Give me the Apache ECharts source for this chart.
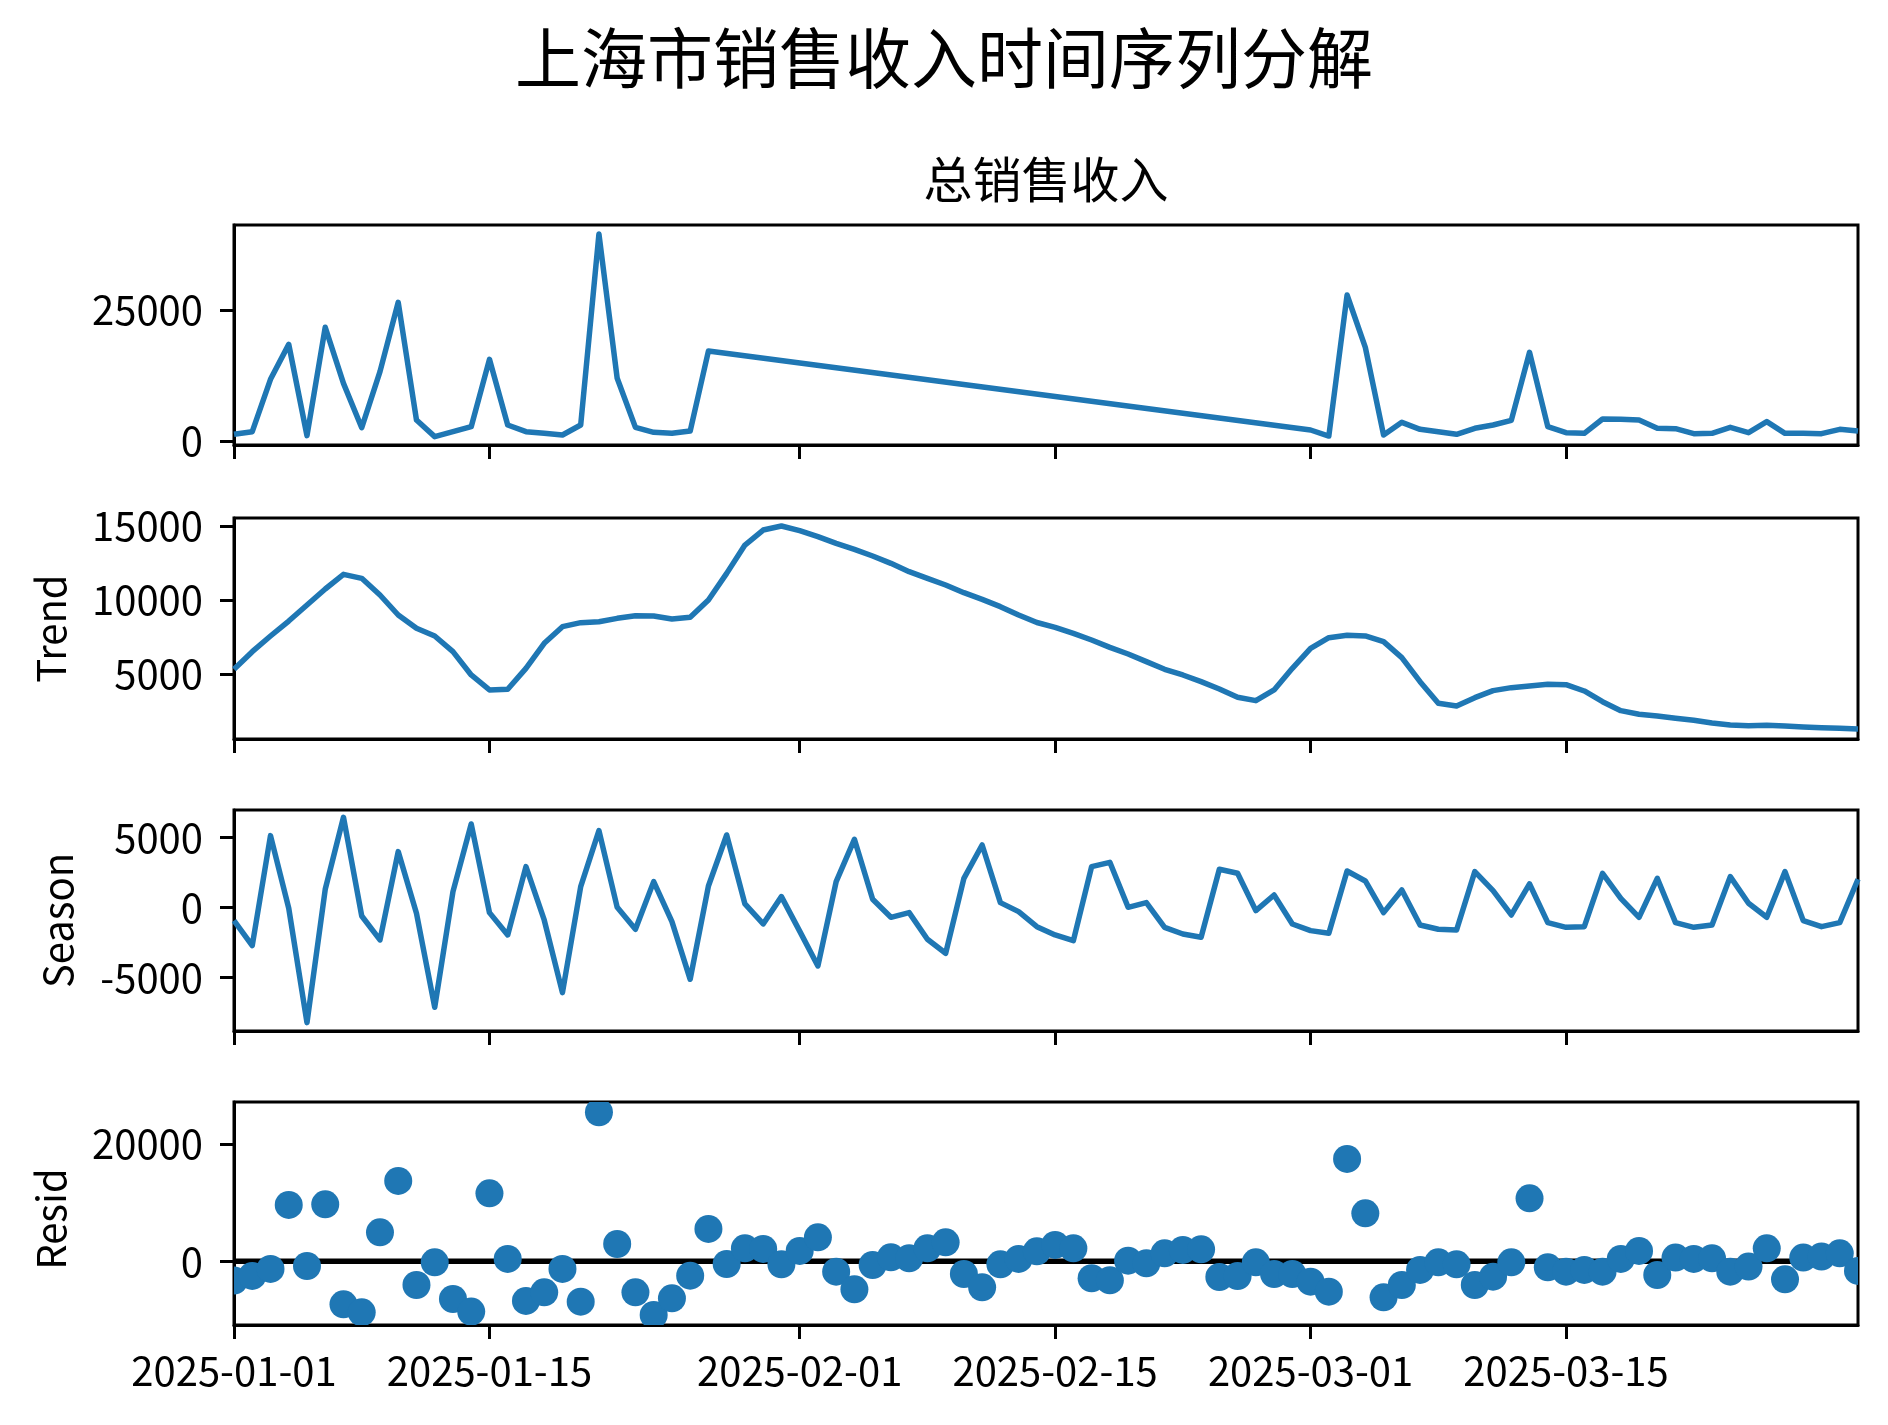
<!DOCTYPE html>
<html>
<head>
<meta charset="utf-8">
<title>上海市销售收入时间序列分解</title>
<script src="https://cdn.jsdelivr.net/npm/echarts@6.0.0/dist/echarts.min.js"></script>
<style>
    html, body { margin: 0; padding: 0; background: #fff; }
    #chart { width: 1888px; height: 1425px; }
</style>
</head>
<body>
<div id="chart"></div>
<script>
// 日期：2025-01-01 起连续 90 天
const dayCount = 90
const days = []
for (let i = 0; i < dayCount; i++) {
    days.push(new Date(2025, 0, 1 + i).getTime())
}

const xTickLabels = ['2025-01-01', '2025-01-15', '2025-02-01', '2025-02-15', '2025-03-01', '2025-03-15']

// 总销售收入（1/28 ~ 2/28 无原始点，直线相连）
const observed = [
    1270, 1780, 11770, 18440, 1020, 21690, 11000, 2540, 13230, 26460,
    4010, 830, 1780, 2730, 15580, 3050, 1780, 1460, 1145, 3050,
    39500, 11960, 2600, 1650, 1460, 1900, 17170, null, null, null,
    null, null, null, null, null, null, null, null, null, null,
    null, null, null, null, null, null, null, null, null, null,
    null, null, null, null, null, null, null, null, null, 2100,
    950, 27860, 17870, 1145, 3560, 2230, 1780, 1270, 2420, 3050,
    3940, 16920, 2730, 1590, 1460, 4200, 4130, 4010, 2420, 2350,
    1400, 1460, 2600, 1590, 3690, 1460, 1460, 1400, 2230, 1900
]

const trend = [
    5316, 6510, 7568, 8581, 9662, 10743, 11734, 11464, 10338, 8987,
    8086, 7568, 6510, 4933, 3920, 3965, 5383, 7072, 8198, 8469,
    8536, 8761, 8942, 8919, 8716, 8829, 10000, 11800, 13716, 14729,
    15000, 14684, 14279, 13828, 13423, 12973, 12477, 11914, 11464, 11013,
    10495, 10045, 9550, 8987, 8480, 8153, 7748, 7298, 6802, 6352,
    5834, 5316, 4933, 4483, 3987, 3424, 3199, 3920, 5383, 6735,
    7455, 7613, 7568, 7185, 6104, 4483, 3019, 2839, 3402, 3875,
    4077, 4190, 4302, 4280, 3852, 3131, 2523, 2276, 2163, 2005,
    1870, 1690, 1555, 1510, 1532, 1487, 1420, 1375, 1330, 1285
]

const season = [
    -952, -2738, 5119, -71, -8238, 1286, 6429, -619, -2333, 3976,
    -429, -7143, 1119, 5952, -381, -1976, 2905, -905, -6095, 1476,
    5476, 0, -1571, 1833, -1024, -5143, 1524, 5167, 238, -1190,
    762, -1700, -4190, 1833, 4857, 571, -714, -381, -2286, -3286,
    2071, 4452, 333, -310, -1381, -1976, -2381, 2905, 3214, 0,
    333, -1429, -1905, -2143, 2714, 2429, -238, 881, -1190, -1667,
    -1857, 2595, 1881, -381, 1238, -1262, -1571, -1619, 2548, 1190,
    -548, 1667, -1095, -1429, -1381, 2429, 643, -714, 2071, -1095,
    -1429, -1262, 2190, 286, -714, 2548, -952, -1381, -1095, 2000
]

const resid = [
    -3300, -2500, -1310, 9630, -800, 9740, -7350, -8720, 4960, 13730,
    -4050, -170, -6440, -8600, 11620, 400, -6780, -5300, -1310, -6900,
    25470, 2960, -5300, -9170, -6330, -2450, 5530, -460, 2220, 2110,
    -510, 1770, 4100, -1770, -4790, -630, 680, 510, 2220, 3250,
    -2170, -4440, -510, 400, 1700, 2790, 2220, -2900, -3250, 110,
    -340, 1370, 1940, 2050, -2680, -2510, -170, -2170, -2170, -3480,
    -5190, 17490, 8200, -6150, -4050, -1480, -170, -510, -4050, -2620,
    -170, 10770, -1030, -1770, -1480, -1770, 400, 1770, -2340, 630,
    400, 510, -1770, -910, 2220, -3080, 630, 800, 1370, -1650
]

const observedTicks = [0, 25000]
const trendTicks = [5000, 10000, 15000]
const seasonTicks = [-5000, 0, 5000]
const residTicks = [0, 20000]

const titleText = '上海市销售收入时间序列分解'
const panelTitle = '总销售收入'
const yNames = ['Trend', 'Season', 'Resid']

function toTs(s) {
    let p = s.split('-')
    return new Date(+p[0], +p[1] - 1, +p[2]).getTime()
}
function fmtDate(v) {
    let d = new Date(v)
    let m = d.getMonth() + 1
    let dd = d.getDate()
    return d.getFullYear() + '-' + (m < 10 ? '0' : '') + m + '-' + (dd < 10 ? '0' : '') + dd
}
const xTicks = xTickLabels.map(toTs)
const pairs = arr => days.map((t, i) => [t, arr[i]])

const font = '"Noto Sans CJK SC", "Noto Sans", sans-serif'
const blue = '#1f77b4'
const black = '#000'

// 四个子图的位置和 y 轴范围
const panels = [
    { top: 225, height: 220, min: -763, max: 41213, ticks: observedTicks },
    { top: 518, height: 221, min: 608, max: 15541, ticks: trendTicks },
    { top: 810, height: 221, min: -8836, max: 6950, ticks: seasonTicks },
    { top: 1102, height: 223, min: -10886, max: 27223, ticks: residTicks }
]

let chart = echarts.init(document.getElementById('chart'))
let option = {
    animation: false,
    backgroundColor: '#fff',
    grid: panels.map(p => ({
        left: 234,
        width: 1624,
        top: p.top,
        height: p.height,
        show: true,
        borderColor: black,
        borderWidth: 3,
        backgroundColor: 'transparent'
    })),
    // 日期轴用时间戳数值轴，刻度放在指定日期
    xAxis: panels.map((p, i) => ({
        type: 'value',
        gridIndex: i,
        min: days[0],
        max: days[dayCount - 1],
        axisLine: { show: true, onZero: false, lineStyle: { color: black, width: 3 } },
        axisTick: { show: true, length: 14, customValues: xTicks, lineStyle: { color: black, width: 3 } },
        axisLabel: {
            show: i === 3,
            customValues: xTicks,
            formatter: fmtDate,
            fontSize: 40,
            color: black,
            fontFamily: font,
            margin: 26
        },
        splitLine: { show: false }
    })),
    yAxis: panels.map((p, i) => ({
        type: 'value',
        gridIndex: i,
        min: p.min,
        max: p.max,
        axisLine: { show: true, onZero: false, lineStyle: { color: black, width: 3 } },
        axisTick: { show: true, length: 14, customValues: p.ticks, lineStyle: { color: black, width: 3 } },
        axisLabel: {
            customValues: p.ticks,
            formatter: v => String(v),
            fontSize: 40,
            color: black,
            fontFamily: font,
            margin: 31
        },
        splitLine: { show: false }
    })),
    series: [
        {
            type: 'line', xAxisIndex: 0, yAxisIndex: 0,
            data: pairs(observed), symbol: 'none', connectNulls: true,
            lineStyle: { color: blue, width: 5.5, join: 'round' }
        },
        {
            type: 'line', xAxisIndex: 1, yAxisIndex: 1,
            data: pairs(trend), symbol: 'none',
            lineStyle: { color: blue, width: 5.5, join: 'round' }
        },
        {
            type: 'line', xAxisIndex: 2, yAxisIndex: 2,
            data: pairs(season), symbol: 'none',
            lineStyle: { color: blue, width: 5.5, join: 'round' }
        },
        {
            // 残差零线
            type: 'line', xAxisIndex: 3, yAxisIndex: 3, z: 1,
            data: [[days[0], 0], [days[dayCount - 1], 0]], symbol: 'none',
            lineStyle: { color: black, width: 5.5 }
        },
        {
            // 残差点，用 custom 系列以便在坐标系边界处裁剪
            type: 'custom', xAxisIndex: 3, yAxisIndex: 3, z: 3,
            data: pairs(resid), clip: true,
            encode: { x: 0, y: 1 },
            renderItem: function (params, api) {
                let p = api.coord([api.value(0), api.value(1)])
                return {
                    type: 'circle',
                    shape: { cx: p[0], cy: p[1], r: 14 },
                    style: { fill: blue }
                }
            }
        }
    ],
    graphic: [
        {
            type: 'text', x: 944, y: 57.5,
            style: { text: titleText, fontSize: 66, fontFamily: font, fill: black, align: 'center', verticalAlign: 'middle' }
        },
        {
            type: 'text', x: 1046, y: 179.5,
            style: { text: panelTitle, fontSize: 49, fontFamily: font, fill: black, align: 'center', verticalAlign: 'middle' }
        },
        {
            type: 'text', x: 51, y: 628.5, rotation: Math.PI / 2,
            style: { text: yNames[0], fontSize: 40, fontFamily: font, fill: black, align: 'center', verticalAlign: 'middle' }
        },
        {
            type: 'text', x: 58, y: 920.5, rotation: Math.PI / 2,
            style: { text: yNames[1], fontSize: 40, fontFamily: font, fill: black, align: 'center', verticalAlign: 'middle' }
        },
        {
            type: 'text', x: 51, y: 1219, rotation: Math.PI / 2,
            style: { text: yNames[2], fontSize: 40, fontFamily: font, fill: black, align: 'center', verticalAlign: 'middle' }
        }
    ]
}
chart.setOption(option)
</script>
</body>
</html>
